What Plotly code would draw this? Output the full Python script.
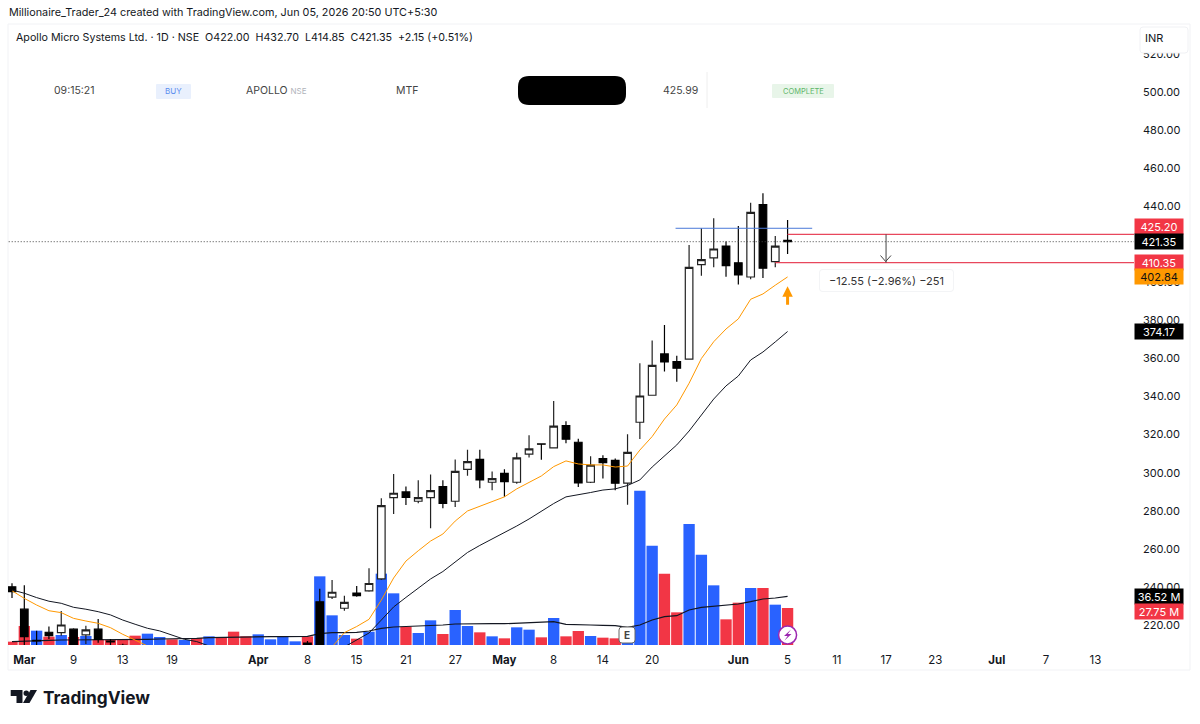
import plotly.graph_objects as go

W, H = 1200, 724
PLOT_L, PLOT_R, PLOT_T, PLOT_B = 8, 1134, 24, 645

OPEN = [240.1, 228.3, 212.0, 216.2, 216.0, 217.8, 214.8, 217.8, 211.5, 209.3,
        207.5, 206.5, 205.5, 205.5, 204.5, 205.5, 204.5, 207.0, 205.0, 203.0,
        204.0, 205.5, 206.5, 207.5, 210.5, 232.2, 234.7, 228.8, 236.8, 237.9,
        244.2, 286.9, 289.9, 285.0, 286.9, 292.7, 285.0, 301.8, 307.0, 295.0,
        299.7, 295.0, 309.8, 315.1, 313.0, 324.7, 316.0, 295.0, 307.4, 306.5,
        294.5, 326.5, 340.7, 362.4, 358.3, 359.7, 409.3, 412.8, 419.1, 410.3,
        402.8, 440.8, 410.9, 422.0]
HIGH = [242.0, 240.9, 217.0, 219.2, 227.4, 218.3, 219.6, 223.2, 212.7, 210.2,
        208.5, 207.5, 207.0, 206.5, 206.0, 207.0, 209.2, 208.0, 207.0, 205.0,
        206.0, 207.0, 208.0, 208.5, 211.6, 239.0, 243.7, 235.4, 240.5, 249.8,
        286.6, 299.3, 292.7, 296.0, 299.0, 296.0, 307.0, 312.0, 312.0, 300.7,
        301.8, 310.5, 319.7, 315.3, 337.7, 327.0, 317.9, 308.6, 309.2, 307.4,
        320.2, 357.5, 369.4, 377.6, 361.5, 419.6, 428.4, 433.7, 421.4, 429.6,
        441.8, 446.8, 424.4, 432.7]
LOW = [234.2, 209.0, 209.0, 212.7, 214.4, 208.6, 210.0, 210.7, 209.1, 208.4,
       205.5, 204.5, 204.0, 203.5, 203.0, 204.0, 203.5, 204.5, 202.0, 201.5,
       203.0, 204.0, 205.0, 206.0, 205.5, 205.0, 233.7, 227.5, 234.9, 237.5,
       243.7, 278.3, 283.0, 284.0, 270.8, 281.3, 282.0, 298.4, 291.8, 290.8,
       287.4, 294.2, 308.0, 306.8, 313.0, 315.5, 292.5, 294.6, 296.9, 290.8,
       283.2, 317.7, 340.5, 353.1, 347.8, 359.5, 403.5, 407.9, 403.0, 398.8,
       401.6, 402.3, 407.9, 414.85]
CLOSE = [237.5, 213.9, 211.6, 214.4, 220.0, 209.5, 217.4, 212.5, 211.1, 208.9,
         206.5, 205.5, 205.0, 204.5, 205.5, 204.5, 207.0, 205.0, 203.0, 204.0,
         205.5, 206.5, 207.5, 207.0, 209.0, 207.0, 237.2, 231.9, 235.4, 241.8,
         282.7, 289.2, 287.0, 286.9, 290.6, 283.9, 300.7, 305.8, 296.2, 296.9,
         295.3, 307.8, 312.5, 315.0, 324.5, 317.6, 294.6, 304.0, 305.3, 294.5,
         310.7, 340.3, 356.4, 358.2, 354.9, 407.9, 411.9, 417.5, 408.8, 403.9,
         436.8, 407.4, 419.0, 421.35]

EMA_FAST = [238.0, 234.0, 230.5, 227.5, 226.5, 223.5, 222.1, 220.9, 218.6, 215.1,
            212.1, 209.0, 207.5, 206.5, 206.0, 205.5, 205.5, 205.5, 205.5, 205.7,
            205.9, 206.0, 206.2, 206.5, 207.0, 207.5, 208.5, 216.0, 219.2, 223.0,
            233.1, 244.7, 253.6, 259.0, 264.1, 267.8, 274.6, 279.9, 282.5, 284.9,
            287.3, 291.5, 294.9, 298.3, 303.2, 306.2, 304.6, 304.1, 304.1, 303.0,
            303.5, 311.9, 319.0, 328.2, 335.6, 347.0, 360.0, 368.8, 375.5, 380.8,
            391.1, 393.9, 398.5, 402.84]
EMA_SLOW = [238.4, 236.7, 234.4, 232.5, 231.4, 229.3, 228.3, 227.0, 225.3, 222.6,
            220.4, 218.3, 216.9, 214.8, 212.5, 211.3, 209.0, 208.0, 207.0, 206.5,
            206.0, 206.0, 206.0, 206.0, 206.0, 206.5, 207.0, 208.5, 212.1, 215.8,
            222.6, 229.5, 234.5, 239.5, 244.2, 248.1, 253.1, 258.1, 261.8, 265.2,
            268.3, 272.0, 275.7, 279.9, 283.8, 287.3, 288.3, 289.6, 290.9, 291.5,
            293.3, 296.2, 303.0, 308.8, 314.6, 321.9, 330.3, 338.7, 345.6, 350.8,
            359.2, 363.4, 368.7, 374.17]

# volume in millions
VOLUME = [2.5, 14.25, 10.75, 6.25, 7.5, 6.0, 6.75, 4.25, 3.75, 4.25,
          7.0, 8.5, 6.0, 4.25, 3.75, 5.25, 6.5, 5.25, 10.0, 6.5,
          8.0, 4.25, 6.0, 2.75, 6.5, 51.5, 22.25, 7.5, 4.75, 10.0,
          53.5, 38.75, 13.75, 9.0, 18.5, 8.25, 26.25, 14.25, 9.5, 6.5,
          5.0, 13.25, 11.5, 5.75, 20.25, 6.5, 10.5, 6.75, 5.5, 5.0,
          6.0, 115.75, 74.5, 53.5, 24.5, 90.75, 67.75, 44.75, 19.25, 31.75,
          42.75, 42.75, 30.25, 27.75]
VOL_UP = [0, 0, 1, 0, 1, 0, 1, 0, 0, 0,
          0, 1, 1, 0, 1, 0, 1, 0, 0, 0,
          1, 1, 1, 1, 0, 1, 1, 1, 0, 1,
          1, 1, 0, 1, 1, 0, 1, 1, 0, 1,
          0, 1, 1, 0, 1, 0, 0, 1, 0, 0,
          1, 1, 1, 0, 0, 1, 1, 1, 0, 0,
          1, 0, 1, 0]
VOL_MA = [2.5, 3.0, 3.25, 3.5, 3.75, 3.75, 3.75, 3.75, 3.75, 3.75,
          4.0, 4.25, 4.5, 4.5, 4.75, 5.0, 5.5, 5.75, 6.0, 6.0,
          6.25, 6.25, 6.25, 6.25, 6.5, 8.5, 9.25, 9.25, 9.5, 10.5,
          12.5, 13.5, 13.75, 14.0, 14.5, 15.0, 15.75, 16.0, 16.0, 16.0,
          16.0, 16.25, 16.5, 16.75, 17.5, 15.5, 15.0, 15.0, 14.75, 14.5,
          13.25, 15.0, 18.75, 21.25, 22.0, 26.25, 28.25, 29.25, 30.0, 30.75,
          32.5, 34.5, 35.25, 36.52]

TICK_POS = [1, 5, 9, 13, 20, 24, 28, 32, 36, 40, 44, 48, 52, 59, 63, 67, 71, 75, 80, 84, 88]
TICK_TEXT = ['<b>Mar</b>', '9', '13', '19', '<b>Apr</b>', '8', '15', '21', '27', '<b>May</b>', '8', '14',
             '20', '<b>Jun</b>', '5', '11', '17', '23', '<b>Jul</b>', '7', '13']

LAST_CLOSE = 421.35
STOP_TOP = 425.20
STOP_BOTTOM = 410.35
BUY_LEVEL = 428.4

FONT = 'Inter'
INK = '#131722'
BLUE = '#2962ff'
RED = '#f23645'
ORANGE = '#ff9800'
PURPLE = '#9c27b0'

idx = list(range(len(CLOSE)))
vol_scale = 0.75  # millions per pixel


def px(x):
    return (x - PLOT_L) / (PLOT_R - PLOT_L)


def py(y):
    return (PLOT_B - y) / (PLOT_B - PLOT_T)


def rounded(x0, y0, x1, y1, r, fill, line='rgba(0,0,0,0)', width=0):
    pts = [('M', x0 + r, y0), ('L', x1 - r, y0), ('Q', x1, y0, x1, y0 + r), ('L', x1, y1 - r),
           ('Q', x1, y1, x1 - r, y1), ('L', x0 + r, y1), ('Q', x0, y1, x0, y1 - r), ('L', x0, y0 + r),
           ('Q', x0, y0, x0 + r, y0)]
    path = ''
    for p in pts:
        coords = p[1:]
        path += p[0] + ' ' + ' '.join(
            str(px(c)) if i % 2 == 0 else str(py(c)) for i, c in enumerate(coords)) + ' '
    return dict(type='path', xref='paper', yref='paper', path=path + 'Z', fillcolor=fill,
                line=dict(color=line, width=width))


def poly(points, fill=None, line='rgba(0,0,0,0)', width=0, close=True):
    path = 'M ' + ' L '.join(f'{px(x)} {py(y)}' for x, y in points)
    if close:
        path += ' Z'
    shape = dict(type='path', xref='paper', yref='paper', path=path, line=dict(color=line, width=width))
    if fill:
        shape['fillcolor'] = fill
    return shape


fig = go.Figure()

fig.add_trace(go.Bar(x=idx, y=VOLUME, yaxis='y', marker_color=[BLUE if u else RED for u in VOL_UP],
                     marker_line_width=0))
fig.add_trace(go.Scatter(x=idx, y=VOL_MA, yaxis='y', mode='lines', line=dict(color=INK, width=1.2)))

fig.add_trace(go.Scatter(x=[-1, 92], y=[LAST_CLOSE, LAST_CLOSE], yaxis='y2', mode='lines',
                         line=dict(color='#444444', width=1, dash='1px,2px')))
fig.add_trace(go.Candlestick(x=idx, open=OPEN, high=HIGH, low=LOW, close=CLOSE, yaxis='y2', whiskerwidth=0,
                             increasing=dict(line=dict(color='#222222', width=1.2), fillcolor='#ffffff'),
                             decreasing=dict(line=dict(color='#000000', width=1.2), fillcolor='#000000')))
fig.add_trace(go.Scatter(x=idx, y=EMA_FAST, yaxis='y2', mode='lines', line=dict(color=ORANGE, width=1)))
fig.add_trace(go.Scatter(x=idx, y=EMA_SLOW, yaxis='y2', mode='lines', line=dict(color=INK, width=1)))
fig.add_trace(go.Scatter(x=[53.9, 65], y=[BUY_LEVEL, BUY_LEVEL], yaxis='y2', mode='lines',
                         line=dict(color='#4a78d8', width=1)))
fig.add_trace(go.Scatter(x=[63, 92], y=[STOP_TOP, STOP_TOP], yaxis='y2', mode='lines',
                         line=dict(color='#e8475c', width=1.2)))
fig.add_trace(go.Scatter(x=[62, 92], y=[STOP_BOTTOM, STOP_BOTTOM], yaxis='y2', mode='lines',
                         line=dict(color='#e8475c', width=1.2)))
# measure tool arrow shaft
fig.add_trace(go.Scatter(x=[71, 71], y=[STOP_TOP, STOP_BOTTOM], yaxis='y2', mode='lines',
                         line=dict(color='#444444', width=1)))
# lightning badge on the last bar
fig.add_trace(go.Scatter(x=[63], y=[7.5], yaxis='y', mode='markers',
                         marker=dict(size=18, color='white', line=dict(color=PURPLE, width=1.5))))

shapes = [
    dict(type='rect', xref='paper', yref='paper', x0=px(8), x1=px(1190), y0=py(670), y1=py(24),
         line=dict(color='#f1f2f5', width=1), layer='below'),
    rounded(1140, 27, 1188, 53, 3, 'white', '#f0f1f4', 1),
    # blacked out cell in the order row
    rounded(518, 76, 626, 105, 11, 'black'),
    dict(type='line', xref='paper', yref='paper', x0=px(707), x1=px(707), y0=py(108), y1=py(72),
         line=dict(color='#eeeeee', width=1)),
    rounded(156, 84, 191, 99, 1, '#e9f0fd'),
    rounded(772, 84, 834, 98, 1, '#e8f5e9'),
    # measure label, arrow head and earnings flag
    rounded(819, 269, 954, 292, 4, '#f3f4f6'),
    rounded(820, 270, 953, 291, 3, 'white'),
    poly([(880.5, 255.5), (885.7, 261.5), (891, 255.5)], line='#444444', width=1, close=False),
    rounded(619, 627, 635, 643, 3, 'white', '#666666', 1),
    # lightning bolt
    poly([(791, 629.5), (784, 636), (787.6, 636), (784.5, 640.5), (791.5, 634), (787.8, 634)], fill=PURPLE),
    # logo
    poly([(10.7, 690), (22.5, 690), (22.5, 703), (16.5, 703), (16.5, 696), (10.7, 696)], fill=INK),
    dict(type='circle', xref='paper', yref='paper', fillcolor=INK, line=dict(width=0),
         x0=px(23.5), x1=px(29), y0=py(696), y1=py(690.5)),
    poly([(30.5, 690), (37, 690), (29.5, 703), (23, 703)], fill=INK),
]


def note(text, x, y, size=11, color=INK, xanchor='center'):
    return dict(text=text, xref='paper', yref='paper', x=px(x), y=py(y), showarrow=False, xanchor=xanchor,
                yanchor='middle', font=dict(family=FONT, size=size, color=color))


def side_label(text, level, axis, bg, fg, yshift=0):
    return dict(text=text, xref='paper', yref=axis, x=px(1159), y=level, yshift=yshift, showarrow=False,
                xanchor='center', yanchor='middle', width=48, height=15, bgcolor=bg, borderpad=0, align='center',
                font=dict(family=FONT, size=11, color=fg))


annotations = [
    note('Millionaire_Trader_24 created with TradingView.com, Jun 05, 2026 20:50 UTC+5:30', 7, 13, size=10.8,
         xanchor='left'),
    note('Apollo Micro Systems Ltd. · 1D · NSE  O422.00  H432.70  L414.85  C421.35  +2.15 (+0.51%)', 14, 38,
         size=10.7, xanchor='left'),
    note('INR', 1154, 38, size=11),
    note('09:15:21', 74, 90, size=10.5, color='#444444'),
    note('BUY', 173.5, 91, size=8, color='#5b8def'),
    note('APOLLO <span style="font-size:8px;color:#b0b3ba">NSE</span>', 244, 90, size=10.5, color='#444444',
         xanchor='left'),
    note('MTF', 407, 90, size=10.5, color='#444444'),
    note('425.99', 680, 90, size=10.5, color='#444444'),
    note('COMPLETE', 803, 91, size=7.5, color='#5fb56a'),
    note('<b>TradingView</b>', 41, 697, size=17.3, xanchor='left'),
    side_label('425.20', STOP_TOP, 'y2', RED, 'white', yshift=7.5),
    side_label(f'{LAST_CLOSE:.2f}', LAST_CLOSE, 'y2', '#000000', 'white'),
    side_label(f'{STOP_BOTTOM:.2f}', STOP_BOTTOM, 'y2', RED, 'white'),
    side_label(f'{EMA_FAST[-1]:.2f}', EMA_FAST[-1], 'y2', ORANGE, '#111111'),
    side_label(f'{EMA_SLOW[-1]:.2f}', EMA_SLOW[-1], 'y2', '#000000', 'white'),
    side_label(f'{VOL_MA[-1]:.2f} M', VOL_MA[-1], 'y', '#000000', 'white'),
    side_label(f'{VOLUME[-1]:.2f} M', VOLUME[-1], 'y', RED, 'white', yshift=-3),
    note('−12.55 (−2.96%) −251', 886.5, 281, size=11, color='#333333'),
    # orange signal arrow
    dict(x=63, y=398, ax=63, ay=387.5, xref='x', yref='y2', axref='x', ayref='y2', text='', showarrow=True,
         arrowhead=2, arrowsize=0.7, arrowwidth=3, arrowcolor=ORANGE),
    # earnings flag
    note('<b>E</b>', 627, 635, size=10, color='#444444'),
]

fig.update_layout(
    width=W, height=H, showlegend=False, paper_bgcolor='white', plot_bgcolor='white',
    margin=dict(l=PLOT_L, r=W - PLOT_R, t=PLOT_T, b=H - PLOT_B, autoexpand=False),
    bargap=0.08, boxgap=0.12,
    font=dict(family=FONT, color=INK),
    xaxis=dict(range=[-0.325, 91.14], tickvals=TICK_POS, ticktext=TICK_TEXT, showgrid=False, zeroline=False,
               showline=False, ticks='', rangeslider=dict(visible=False), tickfont=dict(size=11.5, color=INK),
               ticklabelstandoff=6, tickangle=0),
    yaxis=dict(range=[0, (PLOT_B - PLOT_T) * vol_scale], visible=False, fixedrange=True),
    yaxis2=dict(range=[209.5, 535.7], overlaying='y', side='right', anchor='x', tickvals=list(range(220, 540, 20)),
                tickformat='.2f', showgrid=False, zeroline=False, showline=False, ticks='',
                tickfont=dict(size=11, color=INK), ticklabelstandoff=8),
    shapes=shapes, annotations=annotations,
)

fig.write_html('out.html', config=dict(displayModeBar=False),
               post_script="document.body.style.margin='0';")
